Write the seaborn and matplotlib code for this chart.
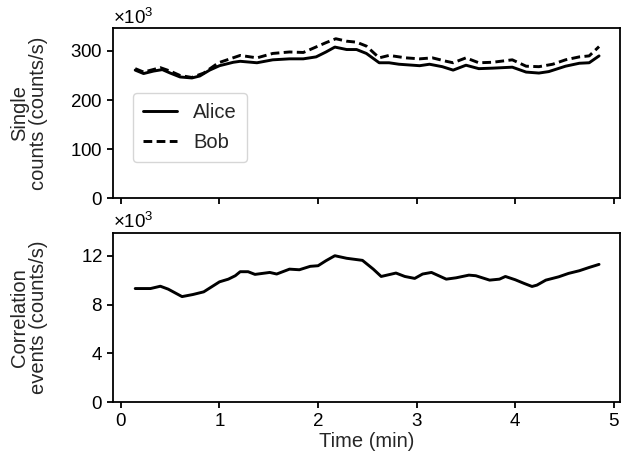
import numpy as np
import pandas as pd
import matplotlib
matplotlib.use("Agg")
import matplotlib.pyplot as plt
import seaborn as sns

# ---- data ----
alice_t = [0.145, 0.23, 0.33, 0.42, 0.50, 0.60, 0.72, 0.80, 0.90, 1.00, 1.14, 1.21, 1.38,
           1.54, 1.71, 1.85, 1.98, 2.08, 2.17, 2.29, 2.39, 2.49, 2.62, 2.72, 2.82, 3.03,
           3.13, 3.26, 3.37, 3.50, 3.63, 3.77, 3.97, 4.11, 4.24, 4.34, 4.51, 4.65, 4.75, 4.85]
alice_v = [261, 254, 259, 262, 255, 247, 245, 249, 261, 270, 277, 279, 276,
           282, 284, 284, 288, 298, 308, 303, 303, 295, 276, 276, 273, 270,
           273, 268, 261, 271, 264, 265, 267, 257, 255, 258, 269, 275, 276, 290]

bob_t = [0.145, 0.23, 0.40, 0.50, 0.60, 0.72, 0.84, 0.99, 1.21, 1.38, 1.54, 1.71, 1.85,
         1.92, 2.08, 2.18, 2.29, 2.39, 2.49, 2.62, 2.72, 2.89, 3.03, 3.16, 3.30, 3.37,
         3.50, 3.63, 3.77, 3.97, 4.11, 4.24, 4.38, 4.51, 4.65, 4.75, 4.85]
bob_v = [264, 257, 266, 259, 250, 246, 255, 276, 291, 286, 295, 298, 297,
         303, 317, 325, 320, 318, 310, 286, 291, 286, 284, 286, 279, 276,
         286, 276, 277, 282, 269, 268, 273, 282, 288, 290, 309]

corr_t = [0.145, 0.30, 0.40, 0.48, 0.62, 0.73, 0.84, 1.00, 1.09, 1.16, 1.21, 1.29, 1.36,
          1.51, 1.58, 1.71, 1.81, 1.92, 2.00, 2.08, 2.17, 2.29, 2.45, 2.56, 2.64, 2.79,
          2.88, 2.98, 3.06, 3.15, 3.30, 3.40, 3.53, 3.60, 3.74, 3.84, 3.90, 4.00, 4.09,
          4.17, 4.22, 4.31, 4.44, 4.54, 4.65, 4.75, 4.85]
corr_v = [9.31, 9.31, 9.5, 9.26, 8.65, 8.82, 9.04, 9.86, 10.08, 10.36, 10.69, 10.69, 10.47,
          10.63, 10.5, 10.9, 10.85, 11.13, 11.18, 11.59, 12.0, 11.79, 11.62, 10.9, 10.3, 10.58,
          10.3, 10.14, 10.5, 10.63, 10.08, 10.19, 10.41, 10.36, 10.0, 10.08, 10.3, 10.03, 9.73,
          9.48, 9.59, 10.0, 10.27, 10.55, 10.77, 11.04, 11.29]

series_names = ["Alice", "Bob"]
top_yticks = [0, 100, 200, 300]
bot_yticks = [0, 4, 8, 12]
xticks = [0, 1, 2, 3, 4, 5]

# ---- style ----
sns.set_theme(style="ticks")
plt.rcParams["font.family"] = ["Liberation Sans", "DejaVu Sans"]
plt.rcParams["mathtext.fontset"] = "custom"
plt.rcParams["mathtext.rm"] = "Liberation Sans"
plt.rcParams["mathtext.it"] = "Liberation Sans"
plt.rcParams["font.size"] = 13
plt.rcParams["axes.linewidth"] = 1.3
plt.rcParams["xtick.major.width"] = 1.3
plt.rcParams["ytick.major.width"] = 1.3
plt.rcParams["xtick.major.size"] = 4
plt.rcParams["ytick.major.size"] = 4
plt.rcParams["xtick.color"] = "black"
plt.rcParams["ytick.color"] = "black"
plt.rcParams["axes.edgecolor"] = "black"

fig = plt.figure(figsize=(6.21, 4.66), dpi=100)
ax1 = fig.add_axes([0.182, 0.575, 0.816, 0.365])
ax2 = fig.add_axes([0.182, 0.137, 0.816, 0.364], sharex=ax1)

df_a = pd.DataFrame({"t": alice_t, "v": np.array(alice_v) * 1000.0, "who": series_names[0]})
df_b = pd.DataFrame({"t": bob_t, "v": np.array(bob_v) * 1000.0, "who": series_names[1]})
df = pd.concat([df_a, df_b], ignore_index=True)

sns.lineplot(data=df, x="t", y="v", style="who", dashes={"Alice": "", "Bob": (3, 1.5)},
             color="black", linewidth=2.1, ax=ax1, estimator=None, sort=False)
ax1.legend(title=None, loc="lower left", bbox_to_anchor=(0.039, 0.21), borderaxespad=0,
           fontsize=14.5, handlelength=1.7, handletextpad=0.8, labelspacing=0.55,
           borderpad=0.5, frameon=True, edgecolor="#cccccc", fancybox=True)

df_c = pd.DataFrame({"t": corr_t, "v": np.array(corr_v) * 1000.0})
sns.lineplot(data=df_c, x="t", y="v", color="black", linewidth=2.1, ax=ax2,
             estimator=None, sort=False)

for ax in (ax1, ax2):
    for s in ax.spines.values():
        s.set_visible(True)
        s.set_color("black")
    ax.ticklabel_format(axis="y", style="sci", scilimits=(3, 3), useMathText=True)
    ax.yaxis.get_offset_text().set_fontsize(13.5)
    ax.tick_params(labelsize=13.5)
    ax.set_xlabel("")

ax1.set_xlim(-0.08, 5.06)
ax1.set_ylim(0, 347000)
ax1.set_yticks([v * 1000 for v in top_yticks])
ax2.set_ylim(0, 13900)
ax2.set_yticks([v * 1000 for v in bot_yticks])
ax2.set_xticks(xticks)
plt.setp(ax1.get_xticklabels(), visible=False)

ax1.set_ylabel("Single\ncounts (counts/s)", fontsize=14.5, linespacing=1.0)
ax2.set_ylabel("Correlation\nevents (counts/s)", fontsize=14.5, linespacing=1.0)
ax1.yaxis.set_label_coords(-0.128, 0.5)
ax2.yaxis.set_label_coords(-0.128, 0.5)
ax2.set_xlabel("Time (min)", fontsize=14.5, labelpad=2)

fig.savefig("out.png", dpi=100)
